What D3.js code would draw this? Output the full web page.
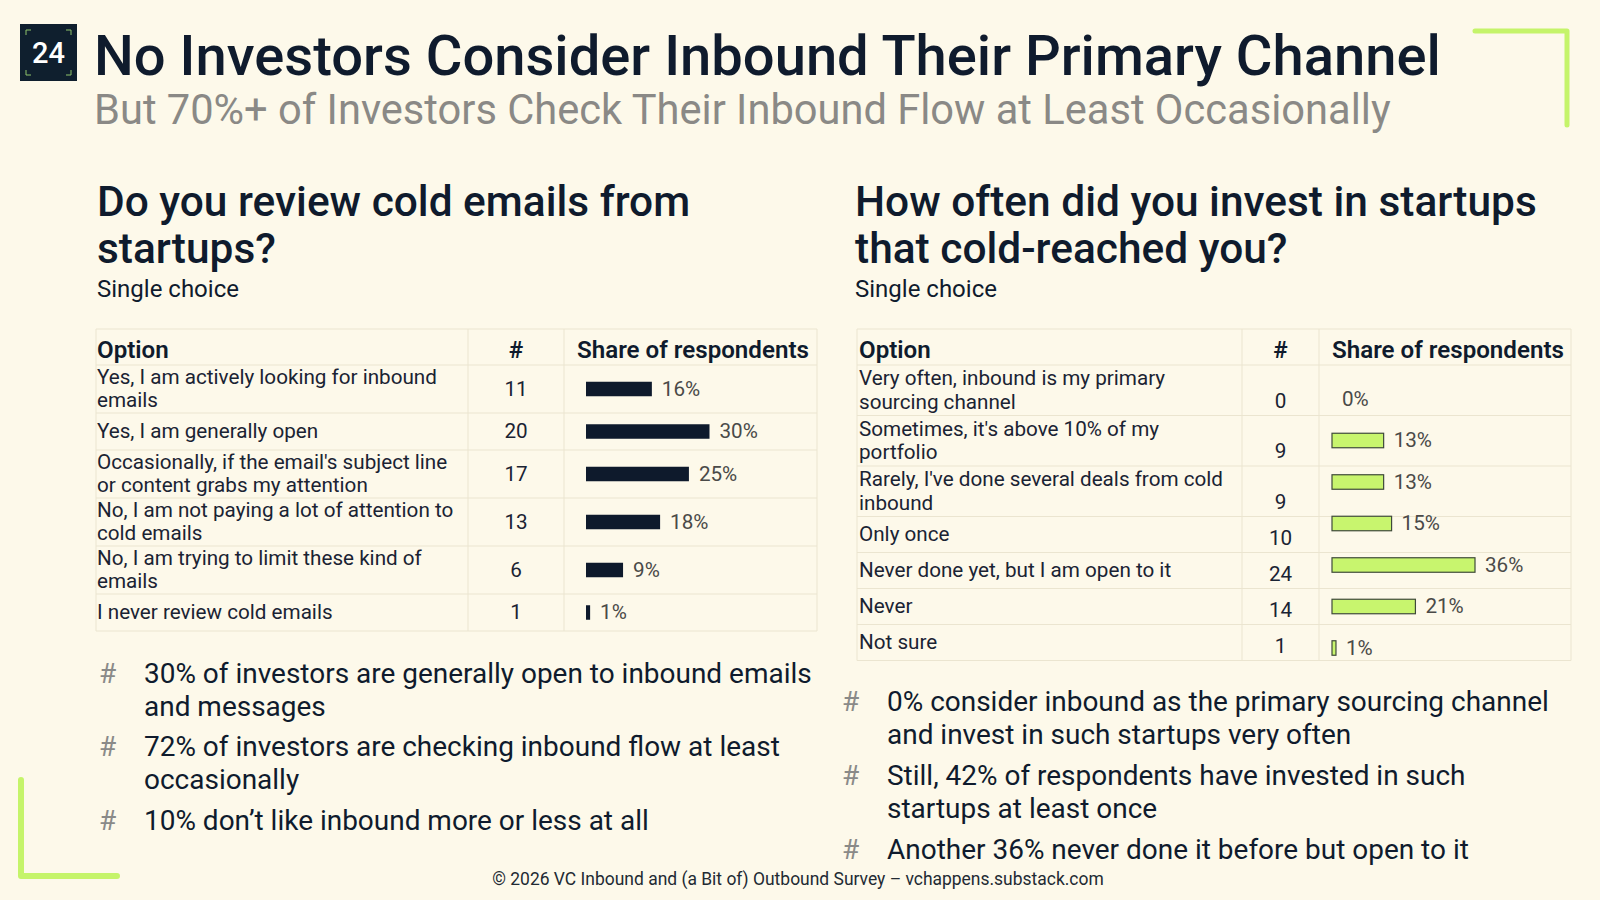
<!DOCTYPE html>
<html>
<head>
<meta charset="utf-8">
<script src="https://cdn.jsdelivr.net/npm/d3@7"></script>
<style>
body{margin:0;background:#fdf9ea;}
svg{display:block;font-family:Roboto,"DejaVu Sans",sans-serif;}
</style>
</head>
<body>
<svg id="chart" width="1600" height="900"></svg>
<script>
// question 1 - review cold emails
const leftOptions = [
    ["Yes, I am actively looking for inbound", "emails"],
    ["Yes, I am generally open"],
    ["Occasionally, if the email's subject line", "or content grabs my attention"],
    ["No, I am not paying a lot of attention to", "cold emails"],
    ["No, I am trying to limit these kind of", "emails"],
    ["I never review cold emails"]
];
const leftCounts = [11, 20, 17, 13, 6, 1];
const leftShares = [16, 30, 25, 18, 9, 1];

// question 2 - invested in cold-reach startups
const rightOptions = [
    ["Very often, inbound is my primary", "sourcing channel"],
    ["Sometimes, it's above 10% of my", "portfolio"],
    ["Rarely, I've done several deals from cold", "inbound"],
    ["Only once"],
    ["Never done yet, but I am open to it"],
    ["Never"],
    ["Not sure"]
];
const rightCounts = [0, 9, 9, 10, 24, 14, 1];
const rightShares = [0, 13, 13, 15, 36, 21, 1];

const leftNotes = [
    ["30% of investors are generally open to inbound emails", "and messages"],
    ["72% of investors are checking inbound flow at least", "occasionally"],
    ["10% don’t like inbound more or less at all"]
];
const rightNotes = [
    ["0% consider inbound as the primary sourcing channel", "and invest in such startups very often"],
    ["Still, 42% of respondents have invested in such", "startups at least once"],
    ["Another 36% never done it before but open to it"]
];
const headers = ["Option", "#", "Share of respondents"];

const navy = "#0f1b2d", lime = "#c8f56e", lineCol = "#ebe5d0";
const svg = d3.select("#chart");

// size a font so a sample string hits a target width
function fitSize(txt, weight, target){
    let t = svg.append("text").attr("font-size", 100).attr("font-weight", weight).text(txt);
    let w = t.node().getComputedTextLength();
    t.remove();
    return 100 * target / w;
}

svg.append("rect").attr("width", 1600).attr("height", 900).attr("fill", "#fdf9ea");

// badge
svg.append("rect").attr("x", 20).attr("y", 24).attr("width", 57).attr("height", 57).attr("fill", "#0f1f2e");
[[26,30,1,1],[71,30,-1,1],[26,75,1,-1],[71,75,-1,-1]].forEach(c=>{
    svg.append("path").attr("d", `M${c[0]},${c[1]+5*c[3]}V${c[1]}H${c[0]+5*c[2]}`)
        .attr("fill", "none").attr("stroke", "#8fc46a").attr("stroke-width", 1);
});
svg.append("text").attr("x", 48.5).attr("y", 63).attr("text-anchor", "middle")
    .attr("fill", "white").attr("font-size", 29).attr("font-weight", 500).text("24");

// corner brackets
svg.append("path").attr("d", "M1475,31H1567V125").attr("fill", "none")
    .attr("stroke", "#c5f46a").attr("stroke-width", 5).attr("stroke-linecap", "round").attr("stroke-linejoin", "round");
svg.append("path").attr("d", "M21,780V876H117").attr("fill", "none")
    .attr("stroke", "#c5f46a").attr("stroke-width", 6).attr("stroke-linecap", "round").attr("stroke-linejoin", "round");

// titles
let title = "No Investors Consider Inbound Their Primary Channel";
svg.append("text").attr("x", 94).attr("y", 75).attr("fill", navy).attr("font-weight", 500)
    .attr("font-size", fitSize(title, 500, 1347)).text(title);
let sub = "But 70%+ of Investors Check Their Inbound Flow at Least Occasionally";
svg.append("text").attr("x", 94).attr("y", 124).attr("fill", "#8a8986")
    .attr("font-size", fitSize(sub, 400, 1297)).text(sub);

const headSize = fitSize("How often did you invest in startups", 500, 682);
const choiceSize = fitSize("Single choice", 400, 142);
const cellSize = fitSize("Yes, I am actively looking for inbound", 400, 340);
const thSize = fitSize("Share of respondents", 600, 232);
const noteSize = fitSize("30% of investors are generally open to inbound emails", 400, 668);

function drawPanel(cfg){
    let g = svg.append("g");
    cfg.question.forEach((q,i)=>{
        g.append("text").attr("x", cfg.qx).attr("y", 216 + i*47).attr("fill", navy)
            .attr("font-weight", 500).attr("font-size", headSize).text(q);
    });
    g.append("text").attr("x", cfg.qx).attr("y", 297).attr("fill", navy)
        .attr("font-size", choiceSize).text("Single choice");

    let cols = cfg.cols, top = 329, headB = 365;
    let heights = cfg.options.map(o => o.length > 1 ? cfg.h2 : cfg.h1);
    let bottoms = Array.from(d3.cumsum(heights), v => headB + v);
    let tops = [headB].concat(bottoms.slice(0, -1));
    let tableB = bottoms[bottoms.length-1];

    // grid
    g.selectAll("line.v").data(cols).join("line").attr("class", "v")
        .attr("x1", d=>d).attr("x2", d=>d).attr("y1", top).attr("y2", tableB)
        .attr("stroke", lineCol).attr("stroke-width", 1);
    g.selectAll("line.h").data([top, headB].concat(bottoms)).join("line").attr("class", "h")
        .attr("x1", cols[0]).attr("x2", cols[3]).attr("y1", d=>d).attr("y2", d=>d)
        .attr("stroke", lineCol).attr("stroke-width", 1);

    // header
    let hx = [cols[0] + cfg.pad, (cols[1]+cols[2])/2, cols[2] + 13];
    g.selectAll("text.th").data(headers).join("text").attr("class", "th")
        .attr("x", (d,i)=>hx[i]).attr("y", headB - 7)
        .attr("text-anchor", (d,i)=> i==1 ? "middle" : "start")
        .attr("fill", navy).attr("font-weight", 600).attr("font-size", thSize).text(d=>d);

    // option text, vertically centred
    cfg.options.forEach((lines,i)=>{
        let mid = (tops[i] + bottoms[i]) / 2;
        lines.forEach((ln,j)=>{
            g.append("text").attr("x", cols[0] + cfg.pad)
                .attr("y", mid + (j - (lines.length-1)/2) * 23.5 + 6.5)
                .attr("fill", "#1a2333").attr("font-size", cellSize).text(ln);
        });
    });

    // counts
    g.selectAll("text.cnt").data(cfg.counts).join("text").attr("class", "cnt")
        .attr("x", (cols[1]+cols[2])/2)
        .attr("y", (d,i)=> cfg.countBottom ? bottoms[i] - 8 : (tops[i]+bottoms[i])/2 + 6.5)
        .attr("text-anchor", "middle").attr("fill", "#1a2333").attr("font-size", cellSize).text(d=>d);

    // bars
    let x = d3.scaleLinear().domain([0, d3.max(cfg.shares)]).range([0, cfg.maxLen]);
    let y = cfg.barY ? cfg.barY : (i => (tops[i]+bottoms[i])/2);
    let bh = 14.5;
    g.selectAll("rect.bar").data(cfg.shares).join("rect").attr("class", "bar")
        .attr("x", cfg.barX).attr("y", (d,i)=>y(i) - bh/2)
        .attr("width", d=>x(d)).attr("height", bh)
        .attr("fill", cfg.fill).attr("stroke", cfg.stroke)
        .attr("stroke-width", d=> d>0 ? cfg.sw : 0);
    g.selectAll("text.pct").data(cfg.shares).join("text").attr("class", "pct")
        .attr("x", d=>cfg.barX + x(d) + 10).attr("y", (d,i)=>y(i) + 6.5)
        .attr("fill", "#4a4a48").attr("font-size", cellSize).text(d=>d + "%");

    // takeaways
    cfg.notes.forEach((note,i)=>{
        g.append("text").attr("x", cfg.hashX).attr("y", cfg.noteY[i]).attr("fill", "#8a8a88")
            .attr("font-size", noteSize).text("#");
        note.forEach((ln,j)=>{
            g.append("text").attr("x", cfg.hashX + 45).attr("y", cfg.noteY[i] + j*32.5)
                .attr("fill", navy).attr("font-size", noteSize).text(ln);
        });
    });
}

drawPanel({
    question: ["Do you review cold emails from", "startups?"], qx: 97,
    cols: [96, 468, 564, 817], pad: 1, h1: 37, h2: 48,
    options: leftOptions, counts: leftCounts, shares: leftShares,
    barX: 586, maxLen: 123.5, fill: "#0e1a2c", stroke: "#0e1a2c", sw: 0,
    notes: leftNotes, hashX: 99, noteY: [683, 756, 830]
});

let rightBarY = d3.scalePoint().domain(d3.range(rightShares.length)).range([399, 648]);
drawPanel({
    question: ["How often did you invest in startups", "that cold-reached you?"], qx: 855,
    cols: [857, 1242, 1319, 1571], pad: 2, h1: 36, h2: 50.5,
    options: rightOptions, counts: rightCounts, shares: rightShares, countBottom: true,
    barX: 1332, maxLen: 143, fill: lime, stroke: "#3f4a3a", sw: 1.2, barY: rightBarY,
    notes: rightNotes, hashX: 842, noteY: [711, 785, 859]
});

// footer
let foot = "© 2026 VC Inbound and (a Bit of) Outbound Survey – vchappens.substack.com";
svg.append("text").attr("x", 798).attr("y", 885).attr("text-anchor", "middle").attr("fill", "#222a33")
    .attr("font-size", fitSize(foot, 400, 612)).text(foot);
</script>
</body>
</html>
